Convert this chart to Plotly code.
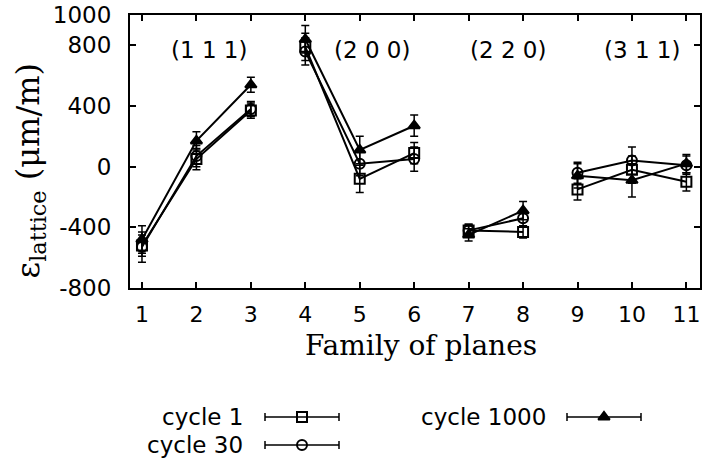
import plotly.graph_objects as go

# ---- data ----
planes = [1, 2, 3, None, 4, 5, 6, None, 7, 8, None, 9, 10, 11]
cycle1 = [-520, 50, 370, None, 790, -80, 90, None, -420, -430, None, -150, -20, -100]
cycle1_err = [70, 70, 50, None, 90, 90, 70, None, 40, 40, None, 70, 90, 60]
cycle30 = [-530, 70, 380, None, 760, 20, 50, None, -420, -340, None, -40, 40, 10]
cycle30_err = [100, 70, 50, None, 90, 80, 80, None, 40, 50, None, 70, 90, 60]
cycle1000 = [-480, 170, 540, None, 840, 110, 270, None, -450, -290, None, -60, -90, 20]
cycle1000_err = [90, 60, 50, None, 90, 90, 70, None, 40, 60, None, 80, 110, 60]

series_names = ["cycle 1", "cycle 30", "cycle 1000"]
group_labels = ["(1 1 1)", "(2 0 0)", "(2 2 0)", "(3 1 1)"]
group_label_x = [2.24, 5.22, 7.72, 10.18]
group_label_y = [770, 770, 770, 770]

x_ticks = list(range(1, 12))
y_ticks = [-800, -400, 0, 400, 800, 1000]

SANS = "DejaVu Sans, Arial, sans-serif"
SERIF = "DejaVu Serif, Times New Roman, serif"

fig = go.Figure()

styles = [
    dict(symbol="square-open", size=10),
    dict(symbol="circle-open", size=10),
    dict(symbol="triangle-up", size=10),
]
values = [cycle1, cycle30, cycle1000]
errors = [cycle1_err, cycle30_err, cycle1000_err]

for name, v, e, st in zip(series_names, values, errors, styles):
    fig.add_trace(go.Scatter(
        x=planes, y=v, name=name, mode="lines+markers",
        line=dict(color="black", width=2),
        marker=dict(color="black", line=dict(color="black", width=2), **st),
        error_y=dict(type="data", array=e, color="black", thickness=1.5, width=4),
        connectgaps=False, showlegend=False,
        xaxis="x", yaxis="y",
    ))

for lab, lx, ly in zip(group_labels, group_label_x, group_label_y):
    fig.add_annotation(x=lx, y=ly, xref="x", yref="y", text=lab, showarrow=False,
                       font=dict(family=SANS, size=23, color="black"))

# axis titles
fig.add_annotation(x=0.5105, y=0.2500, xref="paper", yref="paper", text="Family of planes",
                   xanchor="center", yanchor="middle",
                   showarrow=False, font=dict(family=SERIF, size=28, color="black"))
fig.add_annotation(x=-0.175, y=0.645, xref="paper", yref="paper",
                   text="ε<sub>lattice</sub> (μm/m)", textangle=-90,
                   xanchor="center", yanchor="middle",
                   showarrow=False, font=dict(family=SERIF, size=32, color="black"))

# ---- custom gnuplot-like key (on a helper axis measured in pixels) ----
key_text_right = [245, 245, 548]
key_y = [417, 445, 417]
key_mid = [302, 302, 604]
key_half = 37
for name, tx, ky, km, st in zip(series_names, key_text_right, key_y, key_mid, styles):
    fig.add_trace(go.Scatter(
        x=[km], y=[ky], mode="markers", showlegend=False,
        marker=dict(color="black", line=dict(color="black", width=2),
                    symbol=st["symbol"], size=st["size"]),
        error_x=dict(type="data", array=[key_half], color="black", thickness=1.5, width=4),
        xaxis="x2", yaxis="y2", hoverinfo="skip",
    ))
    fig.add_annotation(x=tx, y=ky, xref="x2", yref="y2", text=name, showarrow=False,
                       xanchor="right", yanchor="middle",
                       font=dict(family=SANS, size=23, color="black"))

fig.update_layout(
    width=702, height=460,
    margin=dict(l=130, r=2, t=15, b=5),
    paper_bgcolor="white", plot_bgcolor="white",
    xaxis=dict(
        domain=[0, 1], anchor="y", range=[0.78, 11.25], automargin=False,
        tickvals=x_ticks, ticktext=[str(t) for t in x_ticks],
        ticks="inside", ticklen=6, tickwidth=1.5, tickcolor="black",
        showline=True, linecolor="black", linewidth=2, mirror="ticks",
        showgrid=False, zeroline=False, ticklabelstandoff=6,
        ticklabeloverflow="allow",
        tickfont=dict(family=SANS, size=22, color="black"),
    ),
    yaxis=dict(
        domain=[0.3795, 1], anchor="x", range=[-800, 1000], automargin=False,
        tickvals=y_ticks, ticktext=[str(t) for t in y_ticks],
        ticks="inside", ticklen=6, tickwidth=1.5, tickcolor="black",
        showline=True, linecolor="black", linewidth=2, mirror="ticks",
        showgrid=False, zeroline=False, ticklabelstandoff=12,
        ticklabeloverflow="allow",
        tickfont=dict(family=SANS, size=23, color="black"),
    ),
    xaxis2=dict(domain=[0, 1], anchor="y2", range=[130, 700], visible=False, fixedrange=True),
    yaxis2=dict(domain=[0, 0.3795], anchor="x2", range=[455, 288], visible=False, fixedrange=True),
)

fig.write_html("out.html", config={"displayModeBar": False},
               post_script="document.body.style.margin='0';")
